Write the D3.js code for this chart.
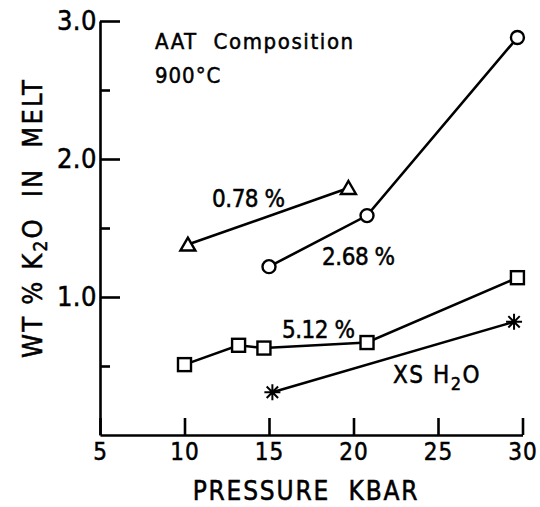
<!DOCTYPE html>
<html>
<head>
<meta charset="utf-8">
<script src="https://cdn.jsdelivr.net/npm/d3@7"></script>
<style>
  body { margin: 0; background: #fff; }
  svg text { font-family: "DejaVu Sans Condensed", "DejaVu Sans", sans-serif; font-stretch: condensed; fill: #000; stroke: #000; stroke-width: 0.5; white-space: pre; }
  .axis path, .axis line { stroke: #000; stroke-width: 2.6; }
</style>
</head>
<body>
<svg id="chart" width="540" height="507"></svg>
<script>
// pressure (kbar) and wt% K2O in melt for each starting composition
const triX = [10.2, 19.7];
const triY = [1.38, 1.79];
const circX = [15.0, 20.8, 29.7];
const circY = [1.22, 1.59, 2.88];
const sqX = [10.0, 13.2, 14.7, 20.8, 29.7];
const sqY = [0.51, 0.65, 0.63, 0.67, 1.14];
const astX = [15.2, 29.5];
const astY = [0.31, 0.82];

const xTicks = [5, 10, 15, 20, 25, 30];
const yMajor = [1, 2, 3];
const yMinor = [0.5, 1.5, 2.5];

window.onload = () => {
    let svg = d3.select("#chart");

    let x = d3.scaleLinear().domain([5, 30]).range([100, 522.5]);
    let y = d3.scaleLinear().domain([0, 3]).range([435, 21]);

    // axes, ticks pointing inward
    svg.append("g")
    .attr("class", "axis")
    .attr("transform", "translate(0,435)")
    .call(d3.axisBottom(x).tickValues(xTicks).tickSize(-17).tickSizeOuter(0).tickPadding(8).tickFormat(d3.format("d")))
    .call(g => g.selectAll("text").attr("font-size", 24).attr("letter-spacing", 1).attr("fill", "#000"));

    svg.append("g")
    .attr("class", "axis")
    .attr("transform", "translate(100,0)")
    .call(d3.axisLeft(y).tickValues(yMajor).tickSize(-20).tickSizeOuter(0).tickPadding(3).tickFormat(d3.format(".1f")))
    .call(g => g.selectAll("text").attr("font-size", 27).attr("letter-spacing", 0.5).attr("fill", "#000"));

    svg.append("g")
    .attr("class", "axis")
    .attr("transform", "translate(100,0)")
    .call(d3.axisLeft(y).tickValues(yMinor).tickSize(-10).tickSizeOuter(0).tickFormat(""))
    .call(g => g.select(".domain").remove());

    // axis titles
    svg.append("text")
    .attr("x", 306)
    .attr("y", 500)
    .attr("text-anchor", "middle")
    .attr("font-size", 26)
    .attr("letter-spacing", 1.8)
    .text("PRESSURE  KBAR");

    let yTitle = svg.append("text")
    .attr("transform", "translate(42,218) rotate(-90)")
    .attr("text-anchor", "middle")
    .attr("font-size", 27)
    .attr("letter-spacing", 2.2);
    yTitle.append("tspan").text("WT % K");
    yTitle.append("tspan").attr("dy", 5).attr("font-size", 19).text("2");
    yTitle.append("tspan").attr("dy", -5).text("O  IN  MELT");

    let line = d3.line().x(d => x(d[0])).y(d => y(d[1]));
    let series = [
        { xs: triX, ys: triY, shape: "triangle" },
        { xs: circX, ys: circY, shape: "circle" },
        { xs: sqX, ys: sqY, shape: "square" },
        { xs: astX, ys: astY, shape: "asterisk" }
    ];

    series.forEach(s => {
        let pts = s.xs.map((v, i) => [v, s.ys[i]]);
        svg.append("path")
        .attr("d", line(pts))
        .attr("fill", "none")
        .attr("stroke", "#000")
        .attr("stroke-width", 2.6);

        let marks = svg.selectAll(null)
        .data(pts)
        .enter()
        .append("g")
        .attr("transform", d => `translate(${x(d[0])},${y(d[1])})`);

        if (s.shape == "circle") {
            marks.append("circle").attr("r", 6.5);
        } else if (s.shape == "square") {
            marks.append("rect").attr("x", -6.5).attr("y", -6.5).attr("width", 13).attr("height", 13);
        } else if (s.shape == "triangle") {
            marks.append("path").attr("d", "M0,-7L7.5,6L-7.5,6Z");
        } else {
            marks.append("path").attr("d", "M0,-8V8M-8,0H8M-5.7,-5.7L5.7,5.7M-5.7,5.7L5.7,-5.7");
        }
        marks.selectAll("*")
        .attr("fill", "#fff")
        .attr("stroke", "#000")
        .attr("stroke-width", s.shape == "asterisk" ? 2 : 2.4);
    });

    // annotations, placed in data coordinates
    let notes = [
        { px: 11.63, wt: 1.65, t: "0.78 %" },
        { px: 18.14, wt: 1.23, t: "2.68 %" },
        { px: 15.77, wt: 0.70, t: "5.12 %" }
    ];
    svg.selectAll(".note")
    .data(notes)
    .enter()
    .append("text")
    .attr("x", d => x(d.px))
    .attr("y", d => y(d.wt))
    .attr("font-size", 24)
    .attr("letter-spacing", -0.5)
    .text(d => d.t);

    let xs = svg.append("text")
    .attr("x", x(22.34))
    .attr("y", y(0.377))
    .attr("font-size", 24)
    .attr("letter-spacing", 1.5);
    xs.append("tspan").text("XS H");
    xs.append("tspan").attr("dy", 7).attr("font-size", 18).text("2");
    xs.append("tspan").attr("dy", -7).text("O");

    svg.append("text")
    .attr("x", x(8.25))
    .attr("y", y(2.80))
    .attr("font-size", 22)
    .attr("letter-spacing", 1.6)
    .text("AAT  Composition");

    svg.append("text")
    .attr("x", x(8.25))
    .attr("y", y(2.55))
    .attr("font-size", 22)
    .attr("letter-spacing", 1)
    .text("900°C");
}
</script>
</body>
</html>
